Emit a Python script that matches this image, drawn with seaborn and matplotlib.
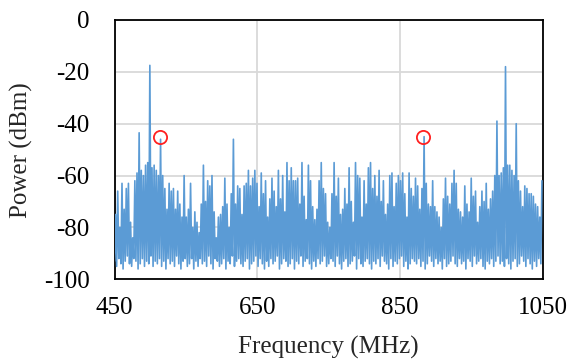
import numpy as np
import pandas as pd
import matplotlib
matplotlib.use("Agg")
import matplotlib.pyplot as plt
import seaborn as sns

# ---------------- data ----------------
peak_start = 451.5   # MHz, first spike
peak_step = 3.0      # MHz between spikes

peak_db = [
    -75, -66, -80, -63, -73, -65, -63, -78, -84, -62, -59, -43.5, -58, -60, -56, -55, -17.5, -57, -56, -58,
    -60, -46, -60, -65, -73, -63, -66, -65, -73, -66, -71, -76, -60, -76, -73, -63, -80, -74, -78, -82,
    -71, -56, -70, -62, -64, -60, -74, -84, -76, -75, -72, -61, -71, -80, -67, -46, -71, -64, -65, -75,
    -64, -63, -58, -64, -61, -58, -63, -72, -59, -67, -62, -76, -69, -61, -66, -72, -58, -69, -60, -74,
    -55, -62, -57, -62, -62, -61, -71, -55, -68, -77, -56, -62, -72, -77, -73, -62, -55, -65, -67, -78,
    -80, -67, -55, -68, -61, -75, -73, -65, -71, -57, -70, -78, -55, -60, -61, -76, -62, -71, -57, -55,
    -65, -60, -68, -58, -70, -62, -75, -71, -60, -59, -72, -63, -60, -62, -59, -67, -76, -59, -65, -68,
    -61, -64, -73, -65, -45, -63, -71, -72, -62, -72, -74, -76, -80, -69, -61, -68, -71, -63, -58, -63,
    -73, -74, -76, -64, -71, -74, -61, -68, -66, -78, -72, -66, -70, -63, -73, -69, -66, -60, -39, -60,
    -59, -57, -18, -56, -56, -58, -60, -40, -62, -66, -72, -64, -65, -67, -67, -68, -71, -72, -76, -62,
]

floor_db = [
    -93, -95, -92, -94, -96, -93, -91, -94, -95, -92, -93, -96, -94, -92, -95, -93, -94, -91, -95, -93,
    -94, -92, -95, -93, -96, -92, -94, -93, -95, -91, -94, -96, -93, -92, -95, -94, -92, -96, -93, -95,
    -92, -94, -93, -95, -91, -94, -96, -92, -93, -95, -94, -92, -96, -93, -94, -91, -95, -93, -92, -94,
    -95, -93, -92, -96, -94, -93, -91, -95, -92, -94, -96, -93, -95, -92, -94, -93, -91, -96, -94, -92,
    -93, -95, -94, -92, -96, -93, -94, -91, -95, -93, -92, -94, -96, -93, -95, -92, -94, -93, -91, -95,
    -94, -92, -93, -95, -91, -94, -96, -93, -92, -95, -94, -93, -91, -96, -92, -94, -95, -93, -92, -94,
    -96, -93, -94, -92, -95, -91, -93, -94, -96, -92, -95, -93, -94, -92, -91, -95, -93, -96, -94, -92,
    -93, -94, -92, -95, -93, -96, -94, -91, -93, -95, -92, -94, -93, -96, -92, -95, -94, -93, -91, -94,
    -95, -92, -94, -93, -96, -92, -93, -95, -91, -94, -93, -92, -95, -96, -93, -94, -92, -95, -93, -91,
    -94, -93, -95, -92, -94, -96, -93, -92, -95, -94, -91, -93, -95, -92, -94, -96, -93, -95, -92, -94,
]

circle_freq = [514, 882]
circle_db = [-45, -45]

x_ticks = [450, 650, 850, 1050]
y_ticks = [0, -20, -40, -60, -80, -100]
x_label = "Frequency (MHz)"
y_label = "Power (dBm)"

# ---------------- build the trace ----------------
n = len(peak_db)
peak_freq = peak_start + peak_step * np.arange(n)
floor_freq = peak_freq - peak_step / 2
freq = np.empty(2 * n)
power = np.empty(2 * n)
freq[0::2] = floor_freq
freq[1::2] = peak_freq
power[0::2] = floor_db
power[1::2] = peak_db
df = pd.DataFrame({"Frequency": freq, "Power": power})

# ---------------- style ----------------
sns.set_style("white")
plt.rcParams["font.family"] = ["Liberation Serif", "DejaVu Serif"]
plt.rcParams["axes.unicode_minus"] = False

fig = plt.figure(figsize=(5.7, 3.6), dpi=100)
ax = fig.add_axes([114.5 / 570, 1 - 279.3 / 360, 428.5 / 570, 259.3 / 360])

sns.lineplot(data=df, x="Frequency", y="Power", estimator=None, sort=False,
             color="#5B9BD5", linewidth=1.2, ax=ax, zorder=3)
ax.plot(circle_freq, circle_db, "o", mfc="none", mec="#FF2020", ms=9.5, mew=1.3, zorder=4)

ax.set_xlim(450, 1050)
ax.set_ylim(-100, 0)
ax.set_xticks(x_ticks)
ax.set_yticks(y_ticks)
ax.grid(True, color="#D9D9D9", linewidth=1.3, zorder=0)
ax.set_axisbelow(True)
for s in ax.spines.values():
    s.set_color("black")
    s.set_linewidth(1.3)
    s.set_visible(True)
ax.tick_params(axis="both", length=0, labelsize=18, colors="black")
ax.tick_params(axis="y", pad=18)
ax.tick_params(axis="x", pad=13)

ax.set_xlabel(x_label, fontsize=18)
ax.set_ylabel(y_label, fontsize=18)
ax.xaxis.set_label_coords(0.5, -0.262)
ax.xaxis.label.set_va("center")
ax.yaxis.set_label_coords(-0.216, 0.5)
ax.yaxis.label.set_va("center")

fig.savefig("out.png", dpi=100)
